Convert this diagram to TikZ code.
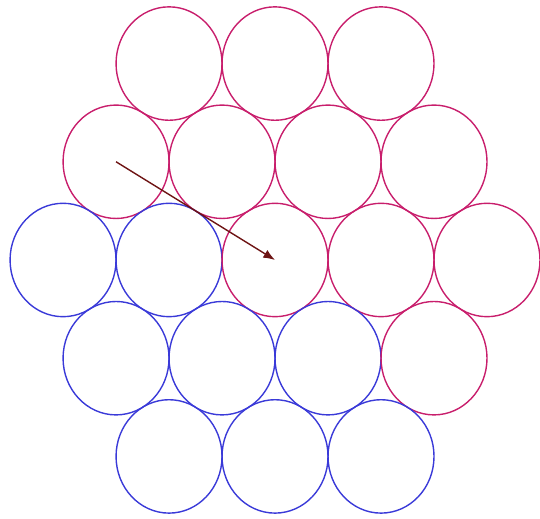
\documentclass[tikz,border=0pt]{standalone}
\usepackage{xcolor}
\usepackage{tikz}
\usetikzlibrary{arrows.meta}
\definecolor{ringpink}{HTML}{C81E6C}
\definecolor{ringblue}{HTML}{3A3AD8}
\definecolor{maroon}{HTML}{6E1414}
\tikzset{
  pink ring/.style={draw=ringpink, line width=0.75pt},
  blue ring/.style={draw=ringblue, line width=0.75pt},
  hop/.style={-{Latex[length=2.2mm,width=1.7mm]}, line width=0.75pt, draw=maroon, fill=maroon}
}

\begin{document}
\begin{tikzpicture}[x=1cm,y=1.07cm]
  \useasboundingbox (-5.19,-4.567) rectangle (5.0,4.585);

  % hexagonal bundle, rows from the top
  \foreach \r/\cols in {1/{pink,pink,pink},
                        2/{pink,pink,pink,pink},
                        3/{blue,blue,pink,pink,pink},
                        4/{blue,blue,blue,pink},
                        5/{blue,blue,blue}} {
    \foreach \col [count=\k] in \cols {
      \pgfmathsetmacro\xx{-(4-abs(3-\r))+2*(\k-1)}
      \pgfmathsetmacro\yy{(3-\r)*sqrt(3)}
      \coordinate (c-\r-\k) at (\xx,\yy);
      \draw[\col\space ring] (c-\r-\k) circle [radius=1];
    }
  }

  % move
  \draw[hop] (c-2-1) -- (c-3-3);
\end{tikzpicture}
\end{document}
